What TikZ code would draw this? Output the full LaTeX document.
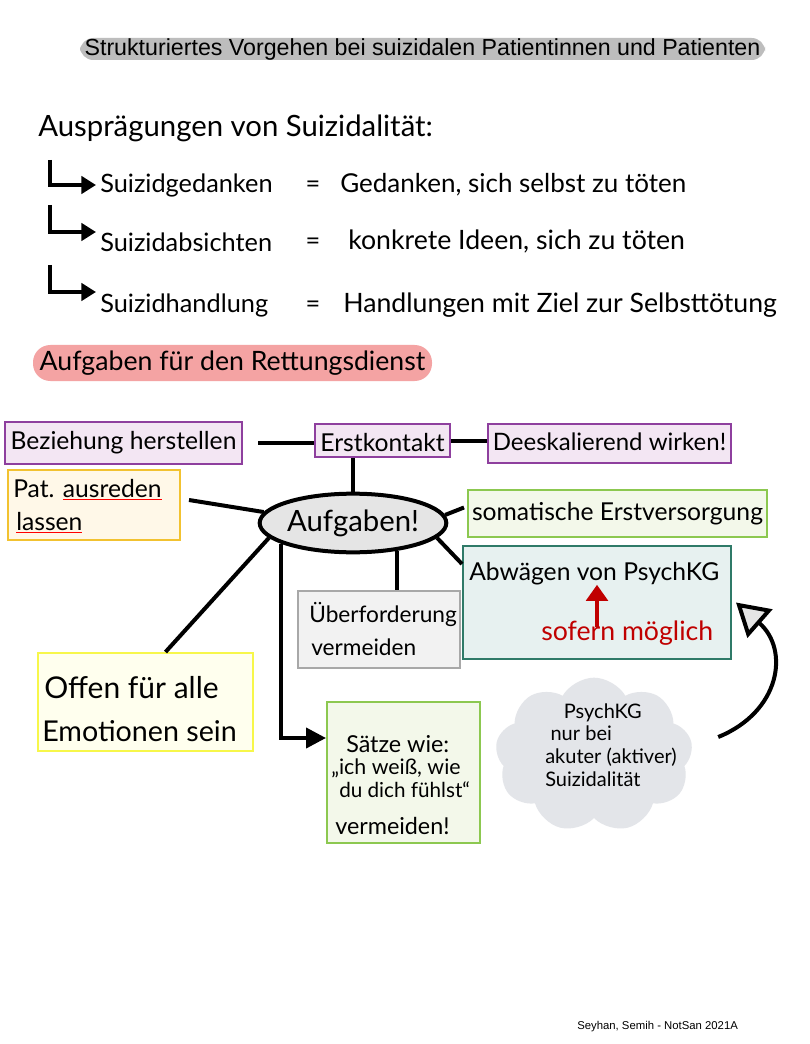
\documentclass[tikz,border=0pt]{standalone}
\usepackage{fontspec}
\setmainfont{Lato}
\newfontfamily\arialf{Liberation Sans}
\usetikzlibrary{shapes.geometric,shapes.symbols,arrows.meta,fit}
\definecolor{pillgray}{HTML}{BDBDBD}
\definecolor{pillred}{HTML}{F4A3A3}
\definecolor{purpb}{HTML}{8E3F9E}
\definecolor{purpf}{HTML}{F3E6F3}
\definecolor{yelb}{HTML}{F2C230}
\definecolor{yelf}{HTML}{FFF8E8}
\definecolor{greenb}{HTML}{8CC850}
\definecolor{greenf}{HTML}{F3F8EA}
\definecolor{tealb}{HTML}{2F7A68}
\definecolor{tealf}{HTML}{E7F1F0}
\definecolor{grayb}{HTML}{A8A8A8}
\definecolor{grayf}{HTML}{F2F2F2}
\definecolor{lyelb}{HTML}{F7F74A}
\definecolor{lyelf}{HTML}{FFFFEE}
\definecolor{cloudf}{HTML}{E3E5E9}
\definecolor{redt}{HTML}{C00000}
\definecolor{ellf}{HTML}{E5E5E5}
\newcommand\fsz[2]{\fontsize{#1}{#2}\selectfont}
\newcommand\rul[1]{{\color{red}\underline{\color{black}#1}}}
\tikzset{
  box/.style={draw, line width=1.5pt, inner sep=0pt},
  txt/.style={inner sep=0pt, anchor=base west},
  ctxt/.style={inner sep=0pt},
  conn/.style={line width=3pt},
  larr/.style={line width=3pt, -{Triangle[length=11pt,width=13pt]}},
  pill/.style={inner sep=0pt, rounded corners=10pt},
}
\begin{document}
\begin{tikzpicture}[x=0.75pt,y=-0.75pt]
\fill[white] (0,0) rectangle (809,1044);
\useasboundingbox (0,0) rectangle (809,1044);

% title
\node[pill, fill=pillgray, fit={(80,38)(765,60)}] (title) {};
\node[ctxt, font=\arialf\fsz{17.4}{19}] (titlet) at ([shift={(0,1)}]title.center) {Strukturiertes Vorgehen bei suizidalen Patientinnen und Patienten};

% heading and rows
\node[txt, font=\fsz{22}{26}] (head) at (38,137) {Ausprägungen von Suizidalität:};

\node[txt, font=\fsz{19}{22}] (sg) at (100,193) {Suizidgedanken};
\node[ctxt, anchor=base, font=\fsz{19}{22}] (eq1) at (313,193) {=};
\node[txt, font=\fsz{19.5}{22}] (sgd) at (340,193) {Gedanken, sich selbst zu töten};

\node[txt, font=\fsz{19}{22}] (sa) at (100,252) {Suizidabsichten};
\node[ctxt, anchor=base, font=\fsz{19}{22}] (eq2) at (313,250) {=};
\node[txt, font=\fsz{20}{22}] (sad) at (348,250) {konkrete Ideen, sich zu töten};

\node[txt, font=\fsz{19}{22}] (sh) at (100,313) {Suizidhandlung};
\node[ctxt, anchor=base, font=\fsz{19}{22}] (eq3) at (313,313) {=};
\node[txt, font=\fsz{20}{22}] (shd) at (343,313) {Handlungen mit Ziel zur Selbsttötung};

\coordinate (a1s) at (50,160); \coordinate (a1e) at (96,185);
\coordinate (a2s) at (50,205); \coordinate (a2e) at (96,232);
\coordinate (a3s) at (50,265); \coordinate (a3e) at (96,292);
\draw[larr] (a1s) |- (a1e);
\draw[larr] (a2s) |- (a2e);
\draw[larr] (a3s) |- (a3e);

% red pill
\node[pill, rounded corners=13pt, fill=pillred, fit={(33,345)(432,381)}] (task) {};
\node[ctxt, font=\fsz{20}{22}] (taskt) at (task.center) {Aufgaben für den Rettungsdienst};

% boxes
\node[box, draw=purpb, fill=purpf, fit={(5,422)(242,464)}] (bez) {};
\node[ctxt, font=\fsz{18.5}{20}] (bezt) at (bez.center) {Beziehung herstellen};
\node[box, draw=purpb, fill=purpf, fit={(315,424)(450,457)}] (erst) {};
\node[ctxt, font=\fsz{18.5}{20}] (erstt) at ([shift={(0,2)}]erst.center) {Erstkontakt};
\node[box, draw=purpb, fill=purpf, fit={(488,424)(731,463)}] (dees) {};
\node[ctxt, font=\fsz{18}{20}] (deest) at ([shift={(0,-2)}]dees.center) {Deeskalierend wirken!};

\node[box, draw=yelb, fill=yelf, fit={(8,470)(180,540)}] (pat) {};
\node[txt, font=\fsz{18.5}{20}] (pat1) at (13,497) {Pat. \rul{ausreden}};
\node[txt, font=\fsz{18.5}{20}] (pat2) at (16,530) {\rul{lassen}};

\node[box, draw=greenb, fill=greenf, fit={(468,490)(767,537)}] (soma) {};
\node[ctxt, font=\fsz{18.5}{20}] (somat) at (soma.center) {somatische Erstversorgung};

\node[box, draw=tealb, fill=tealf, fit={(463,546)(731,659)}] (abw) {};
\node[txt, font=\fsz{18.5}{22}] (abwt) at (469,580) {Abwägen von PsychKG};
\node[txt, font=\fsz{20}{22}, text=redt] (sof) at (541,640) {sofern möglich};

\node[box, draw=grayb, fill=grayf, fit={(298,591)(460,668)}] (ueb) {};
\node[txt, font=\fsz{17}{20}] (ueb1) at (309,622) {Überforderung};
\node[txt, font=\fsz{17}{20}] (ueb2) at (311,655) {vermeiden};

\node[box, draw=lyelb, fill=lyelf, fit={(38,653)(253,751)}] (offen) {};
\node[txt, font=\fsz{22.5}{26}] (off1) at (44,698) {Offen für alle};
\node[txt, font=\fsz{21.5}{26}] (off2) at (42,741) {Emotionen sein};

\node[box, draw=greenb, fill=greenf, fit={(327,702)(480,843)}] (saetze) {};
\node[txt, font=\fsz{17.5}{20}] (s1) at (346,752) {Sätze wie:};
\node[txt, font=\fsz{16}{20}] (s2) at (331,774) {„ich weiß, wie};
\node[txt, font=\fsz{15.5}{20}] (s3) at (339,797) {du dich fühlst“};
\node[txt, font=\fsz{17.5}{20}] (s4) at (335,834) {vermeiden!};

% ellipse
\node[draw, line width=3pt, ellipse, fill=ellf, minimum width=135pt, minimum height=44pt, inner sep=0pt, font=\fsz{22}{24}] (auf) at (353,523) {Aufgaben!};

% cloud
\node[cloud, cloud puffs=9, cloud puff arc=120, aspect=1.25, fill=cloudf, minimum width=148pt, minimum height=116pt, inner sep=0pt] (cl) at (594,755) {};
\node[ctxt, align=left, font=\fsz{15}{17}] (clt) at (611,745)
  {\hspace*{14pt}PsychKG\\ \hspace*{4pt}nur bei\\ akuter (aktiver)\\ Suizidalität};

% connectors
\draw[conn] ([shift={(15,0)}]bez.east) -- (bez.east -| erst.west);
\draw[conn] (erst.east) -- (erst.east -| dees.west);
\draw[conn] (auf.north) -- (auf.north |- erst.south);
\draw[conn] ([shift={(8,-5)}]pat.east) -- (auf.173);
\draw[conn] (auf.5) -- ([shift={(-3,-6)}]soma.west);
\draw[conn] (auf.-10) -- ([shift={(0,19)}]abw.north west);
\draw[conn] (auf.-32) -- (auf.-32 |- ueb.north);
\draw[conn] (auf.-170) -- ([shift={(20,0)}]offen.north);
\draw[conn, -{Triangle[length=15pt,width=15pt]}] (auf.-164) |- ([shift={(0,37)}]saetze.north west);

% red arrow
\coordinate (rs) at (597,627);
\draw[line width=3pt, draw=redt, -{Triangle[length=12pt,width=16pt]}, redt] (rs) -- (rs |- abwt.south);

% curved arrow from cloud
\draw[line width=3pt, -{Triangle[length=24pt,width=28pt,fill=ellf]}] ([shift={(27,-18)}]cl.east) .. controls (780,712) and (790,650) .. ([shift={(4,0)}]abw.east);

% footer
\node[txt, font=\arialf\fsz{8.5}{10}] (foot) at (577,1029) {Seyhan, Semih - NotSan 2021A};
\end{tikzpicture}
\end{document}
